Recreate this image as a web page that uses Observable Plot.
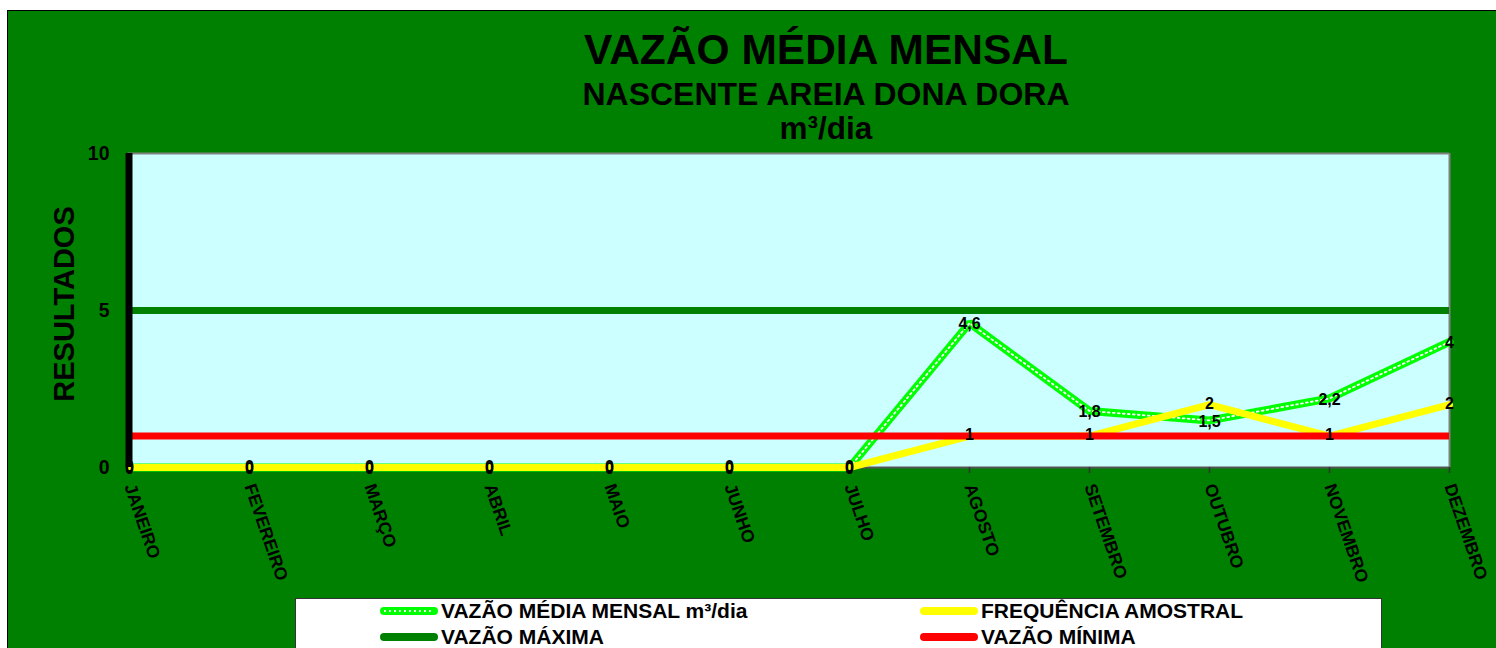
<!DOCTYPE html>
<html><head><meta charset="utf-8">
<script src="https://cdn.jsdelivr.net/npm/d3@7"></script>
<script src="https://cdn.jsdelivr.net/npm/@observablehq/plot@0.6"></script>
<style>
html,body{margin:0;padding:0;background:#fff;}
body{font-family:"Liberation Sans",Arial,sans-serif;}
#wrap{position:relative;width:1496px;height:648px;overflow:hidden;}
#bg{position:absolute;left:7px;top:10px;right:0;bottom:0;background:#008000;border-left:1px solid #000;border-top:1px solid #000;}
#chart{position:absolute;left:0;top:0;}
.t{position:absolute;left:326px;width:1000px;text-align:center;font-weight:bold;color:#000;line-height:1;white-space:nowrap;}
#ylab{position:absolute;left:64px;top:304px;transform:translate(-50%,-50%) rotate(-90deg);font-weight:bold;font-size:29px;line-height:1;white-space:nowrap;color:#000;}
#legend{position:absolute;left:295px;top:598px;width:1087px;height:60px;background:#fff;border:1px solid #333;box-sizing:border-box;}
.li{position:absolute;display:flex;align-items:center;font-weight:bold;font-size:21px;line-height:1;white-space:nowrap;color:#000;}
.li svg{margin-right:3px;}
</style></head>
<body>
<div id="wrap">
  <div id="bg"></div>
  <div id="chart"></div>
  <div class="t" style="top:29px;font-size:42.5px;">VAZÃO MÉDIA MENSAL</div>
  <div class="t" style="top:78px;font-size:32px;">NASCENTE AREIA DONA DORA</div>
  <div class="t" style="top:113px;font-size:31.5px;">m³/dia</div>
  <div id="ylab">RESULTADOS</div>
  <div id="legend"></div>
</div>
<script>
const months = ["JANEIRO","FEVEREIRO","MARÇO","ABRIL","MAIO","JUNHO","JULHO","AGOSTO","SETEMBRO","OUTUBRO","NOVEMBRO","DEZEMBRO"];
const vazaoMedia = [0,0,0,0,0,0,0,4.6,1.8,1.5,2.2,4];
const frequencia = [0,0,0,0,0,0,0,1,1,2,1,2];
const vazaoMaxima = [5];
const vazaoMinima = [1];
const yTicks = [0,5,10];
const seriesNames = ["VAZÃO MÉDIA MENSAL m³/dia","FREQUÊNCIA AMOSTRAL","VAZÃO MÁXIMA","VAZÃO MÍNIMA"];

const fmt = v => String(v).replace(".", ",");
const mx = (d,i) => months[i];

const chart = Plot.plot({
  width:1496, height:648,
  marginLeft:128, marginRight:47, marginTop:153, marginBottom:181,
  style:{background:"transparent", overflow:"visible", fontFamily:"Liberation Sans, Arial, sans-serif", maxWidth:"none"},
  x:{type:"point", domain:months, padding:0, axis:null},
  y:{domain:[0,10], axis:null},
  marks:[
    Plot.frame({fill:"#ccffff", stroke:null}),
    Plot.ruleY([10], {stroke:"#808080", strokeWidth:2}),
    Plot.ruleX([months[11]], {y1:0, y2:10, stroke:"#808080", strokeWidth:2}),
    Plot.ruleY([0], {stroke:"#555", strokeWidth:2}),
    Plot.ruleX(months, {x:d=>d, y1:0, y2:0, insetBottom:-6, stroke:"#333", strokeWidth:1.5}),
    Plot.line(vazaoMedia, {x:mx, y:d=>d, stroke:"#00ff00", strokeWidth:8, strokeLinejoin:"miter"}),
    Plot.line(vazaoMedia, {x:mx, y:d=>d, stroke:"#ffffff", strokeWidth:1.8, strokeDasharray:"1.8 3.2"}),
    Plot.line(frequencia, {x:mx, y:d=>d, stroke:"#ffff00", strokeWidth:7}),
    Plot.ruleY(vazaoMinima, {stroke:"#ff0000", strokeWidth:7}),
    Plot.ruleY(vazaoMaxima, {stroke:"#008000", strokeWidth:7}),
    Plot.ruleX([months[0]], {y1:0, y2:10, stroke:"#000", strokeWidth:7, dx:-0.5}),
    Plot.ruleY(yTicks, {x1:months[0], x2:months[0], insetLeft:-8, stroke:"#000", strokeWidth:7}),
    Plot.text(yTicks, {x:()=>months[0], y:d=>d, text:d=>String(d), textAnchor:"end", dx:-20, fontSize:19.5, fontWeight:"bold", fill:"#000"}),
    Plot.text(months, {x:d=>d, frameAnchor:"bottom", text:d=>d, dy:17, rotate:71, textAnchor:"start", lineAnchor:"middle", fontSize:17.5, fontWeight:"bold", fill:"#000"}),
    Plot.text(frequencia, {x:mx, y:d=>d, text:fmt, fontSize:16, fontWeight:"bold", fill:"#000", dy:-1}),
    Plot.text(vazaoMedia, {x:mx, y:d=>d, text:fmt, fontSize:16, fontWeight:"bold", fill:"#000", dy:1})
  ]
});
document.getElementById("chart").appendChild(chart);

// legend
const legendItems = [
  {name:seriesNames[0], color:"#00ff00", dotted:true, left:84, top:12},
  {name:seriesNames[1], color:"#ffff00", dotted:false, left:624, top:12},
  {name:seriesNames[2], color:"#008000", dotted:false, left:84, top:38},
  {name:seriesNames[3], color:"#ff0000", dotted:false, left:624, top:38}
];
const leg = document.getElementById("legend");
for (const it of legendItems) {
  const el = document.createElement("div");
  el.className = "li";
  el.style.left = it.left + "px";
  el.style.top = (it.top - 11) + "px";
  el.innerHTML = `<svg width="58" height="12"><line x1="4" y1="6" x2="54" y2="6" stroke="${it.color}" stroke-width="8" stroke-linecap="round"/>${it.dotted?'<line x1="4" y1="6" x2="54" y2="6" stroke="#fff" stroke-width="1.8" stroke-dasharray="1.8 3.2"/>':''}</svg><span>${it.name}</span>`;
  leg.appendChild(el);
}
</script>
</body></html>
